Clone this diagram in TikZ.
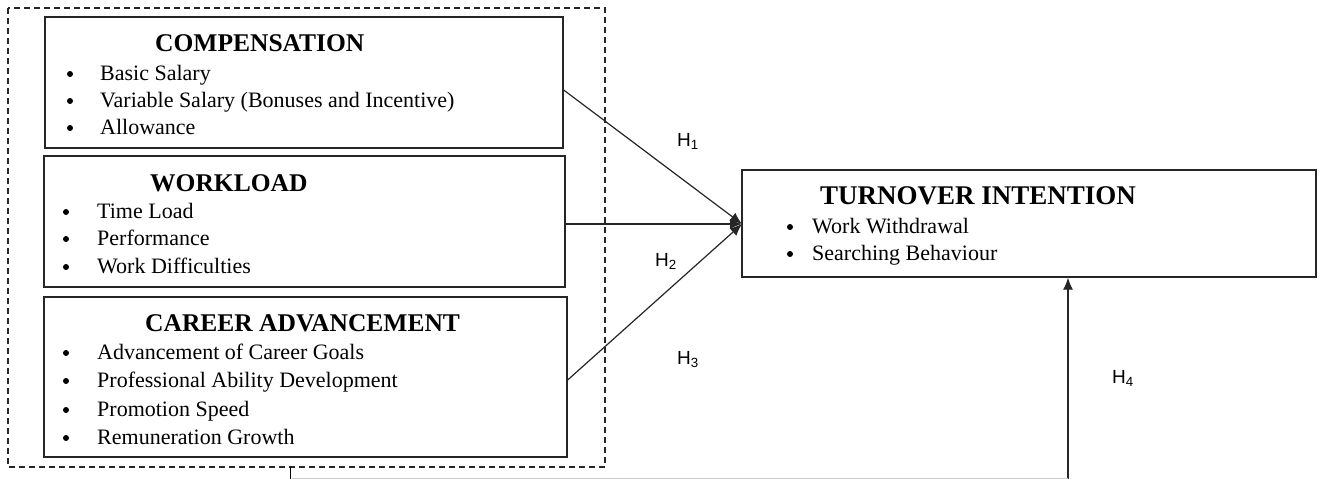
\documentclass[tikz,border=0pt]{standalone}
\usepackage{fontspec}
\setmainfont{Liberation Serif}
\newfontfamily\hfont{Liberation Sans}
\usetikzlibrary{arrows.meta}
\tikzset{
  box/.style={draw=black!85, line width=1.3pt},
  head/.style={anchor=base west, inner sep=0pt, font=\fontsize{25.5}{28}\selectfont\bfseries},
  item/.style={anchor=base west, inner sep=0pt, font=\fontsize{22}{24}\selectfont},
  bul/.style={circle, fill=black, inner sep=0pt, minimum size=6pt},
  hyp/.style={anchor=base west, inner sep=0pt, font=\hfont\fontsize{19}{21}\selectfont},
  conn/.style={draw=black!85, line width=1.2pt, -{Latex[length=12pt,width=10pt]}},
  grp/.style={draw=black!85, line width=1.1pt, dash pattern=on 6pt off 4pt},
}
\begin{document}
\begin{tikzpicture}[x=1pt,y=-1pt]
\useasboundingbox (0,0) rectangle (1322,479);
% dashed group
\draw[grp] (8,8) rectangle (605,467);
% boxes
\node[box, minimum width=518pt, minimum height=131pt, inner sep=0pt] (comp) at (304,82.5) {};
\node[box, minimum width=521pt, minimum height=131pt, inner sep=0pt] (work) at (304.5,221.5) {};
\node[box, minimum width=523pt, minimum height=160pt, inner sep=0pt] (career) at (305.5,377) {};
\node[box, minimum width=574pt, minimum height=107pt, inner sep=0pt] (turn) at (1029,223.5) {};
% compensation text
\node[head] (ch) at (155,51) {COMPENSATION};
\node[bul] (cb1) at (70,74) {}; \node[item] (c1) at (100,80) {Basic Salary};
\node[bul] (cb2) at (70,101) {}; \node[item] (c2) at (100,107) {Variable Salary (Bonuses and Incentive)};
\node[bul] (cb3) at (70,128) {}; \node[item] (c3) at (100,134) {Allowance};
% workload text
\node[head] (wh) at (150,191) {WORKLOAD};
\node[bul] (wb1) at (66,212) {}; \node[item] (w1) at (97,218) {Time Load};
\node[bul] (wb2) at (66,239) {}; \node[item] (w2) at (97,245) {Performance};
\node[bul] (wb3) at (66,267) {}; \node[item] (w3) at (97,273) {Work Difficulties};
% career text
\node[head] (kh) at (145,331) {CAREER ADVANCEMENT};
\node[bul] (kb1) at (66,353) {}; \node[item] (k1) at (97,359) {Advancement of Career Goals};
\node[bul] (kb2) at (66,381) {}; \node[item] (k2) at (97,387) {Professional Ability Development};
\node[bul] (kb3) at (66,410) {}; \node[item] (k3) at (97,416) {Promotion Speed};
\node[bul] (kb4) at (66,438) {}; \node[item] (k4) at (97,444) {Remuneration Growth};
% turnover text
\node[head, font=\fontsize{27}{29}\selectfont\bfseries] (th) at (820,204) {TURNOVER INTENTION};
\node[bul] (tb1) at (790,227) {}; \node[item] (t1) at (812,233) {Work Withdrawal};
\node[bul] (tb2) at (790,254) {}; \node[item] (t2) at (812,260) {Searching Behaviour};
% connectors
\coordinate (tgt) at (742,224);
\draw[conn] (comp.east |- 0,90) -- (tgt);
\draw[conn] (work.east |- tgt) -- (tgt);
\draw[conn] (career.east |- 0,380) -- (tgt);
\coordinate (bot) at (1068,479);
\draw[conn] (bot) -- (turn.south -| bot);
\coordinate (stubtop) at (290,467);
\coordinate (stubbot) at (290,479);
\draw[line width=1pt] (stubtop) -- (stubbot);
\draw[black!20, line width=0.8pt] (292,478.5) -- (bot |- 0,478.5);
% hypothesis labels
\node[hyp] (h1) at (677,146) {H\textsubscript{1}};
\node[hyp] (h2) at (655,266) {H\textsubscript{2}};
\node[hyp] (h3) at (677,364) {H\textsubscript{3}};
\node[hyp] (h4) at (1112,383) {H\textsubscript{4}};
\end{tikzpicture}
\end{document}
